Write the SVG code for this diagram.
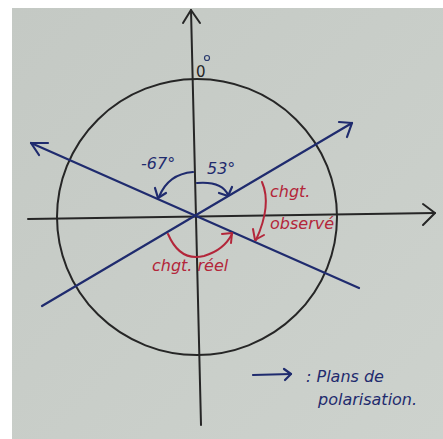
<svg xmlns="http://www.w3.org/2000/svg" width="443" height="439" viewBox="0 0 443 439">
  <defs>
    <style>
      .ink { fill: none; stroke: #262626; stroke-width: 2; stroke-linecap: round; stroke-linejoin: round; }
      .blue { fill: none; stroke: #1f2b6e; stroke-width: 2.2; stroke-linecap: round; stroke-linejoin: round; }
      .red { fill: none; stroke: #b3263a; stroke-width: 2; stroke-linecap: round; stroke-linejoin: round; }
      .tb { fill: #1f2b6e; font-family: 'DejaVu Sans', sans-serif; font-style: italic; }
      .tr { fill: #b3263a; font-family: 'DejaVu Sans', sans-serif; font-style: italic; }
      .tk { fill: #262626; font-family: 'DejaVu Sans', sans-serif; }
    </style>
    <linearGradient id="paper" x1="0" y1="0" x2="1" y2="1">
      <stop offset="0" stop-color="#c4c9c4"/>
      <stop offset="1" stop-color="#cdd2cd"/>
    </linearGradient>
  </defs>
  <rect x="0" y="0" width="443" height="439" fill="#ffffff"/>
  <rect x="12" y="8" width="431" height="431" fill="url(#paper)"/>

  <g id="axes">
    <path class="ink" d="M28,219 L435,213"/>
    <path class="ink" d="M423,204 L435,213 L423,225"/>
    <path class="ink" d="M191,10 L201,425"/>
    <path class="ink" d="M183,23 L191,10 L200,23"/>
  </g>

  <g id="circle">
    <ellipse class="ink" cx="197" cy="217" rx="140" ry="138"/>
    <text class="tk" x="196" y="77" font-size="15">0</text>
    <circle cx="207" cy="58" r="2.5" fill="none" stroke="#2a3a6e" stroke-width="1.2"/>
  </g>

  <g id="connectors">
    <path class="blue" d="M31,143 L359,288"/>
    <path class="blue" d="M48,143 L31,143 L39,155"/>
    <path class="blue" d="M42,306 L352,123"/>
    <path class="blue" d="M339,122 L352,123 L347,137"/>
  </g>

  <g id="angle-67">
    <path class="blue" d="M193,172 Q168,174 159,197"/>
    <path class="blue" d="M155,188 L158,198 L166,193"/>
    <text class="tb" x="141" y="169" font-size="16">-67°</text>
  </g>

  <g id="angle-53">
    <path class="blue" d="M197,183 Q222,181 228,195"/>
    <path class="blue" d="M219,193 L228,196 L232,187"/>
    <text class="tb" x="207" y="174" font-size="16">53°</text>
  </g>

  <g id="chgt-reel">
    <path class="red" d="M168,234 Q180,262 204,256 Q224,250 232,234"/>
    <path class="red" d="M222,234 L232,233 L231,243"/>
    <text class="tr" x="152" y="271" font-size="16">chgt. réel</text>
  </g>

  <g id="chgt-observe">
    <path class="red" d="M262,182 Q272,205 256,240"/>
    <path class="red" d="M253,229 L255,240 L264,235"/>
    <text class="tr" x="270" y="197" font-size="16">chgt.</text>
    <text class="tr" x="270" y="229" font-size="16">observé</text>
  </g>

  <g id="legend">
    <path class="blue" d="M253,375 L291,374"/>
    <path class="blue" d="M284,369 L291,374 L285,380"/>
    <text class="tb" x="306" y="382" font-size="16">: Plans de</text>
    <text class="tb" x="318" y="405" font-size="16">polarisation.</text>
  </g>
</svg>
